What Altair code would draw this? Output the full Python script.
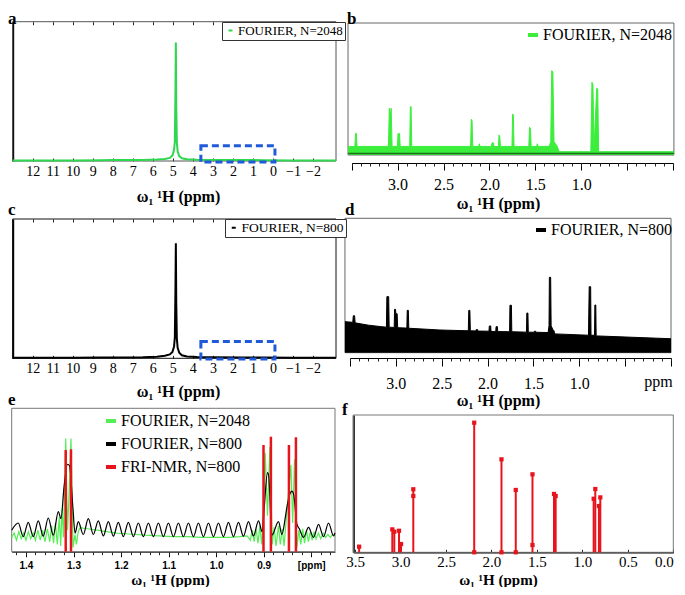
import altair as alt
import pandas as pd

SERIF = "Liberation Serif"
SANS = "Liberation Sans"
XTITLE = "ω₁ ¹H (ppm)"
H = 579.0  # plot-area height of the whole layered chart

# ---------------- data ----------------
# panels a / c : full 1H spectrum (ppm, relative intensity)
full_ppm = [13.0, 10.0, 8.6, 8.0, 6.5, 5.8, 5.4, 5.15, 5.02, 4.94, 4.90, 4.87, 4.85,
            4.83, 4.80, 4.76, 4.68, 4.55, 4.30, 3.80, 3.00, 1.50, 0.50, -1.00, -3.15]
a_int = [0.004, 0.004, 0.006, 0.007, 0.008, 0.010, 0.014, 0.022, 0.040, 0.080, 0.140, 0.500, 0.850,
         0.400, 0.130, 0.070, 0.035, 0.020, 0.012, 0.009, 0.008, 0.007, 0.006, 0.004, 0.004]
c_int = [0.004, 0.004, 0.005, 0.006, 0.008, 0.012, 0.018, 0.028, 0.045, 0.085, 0.150, 0.500, 0.826,
         0.400, 0.140, 0.075, 0.040, 0.022, 0.013, 0.009, 0.007, 0.006, 0.005, 0.004, 0.004]
full_ticks = [12, 11, 10, 9, 8, 7, 6, 5, 4, 3, 2, 1, 0, -1, -2]
zoom_box_ppm = [3.6, -0.1]
a_box_int = [-0.008, 0.11]
c_box_int = [-0.005, 0.12]

# panel b : FOURIER N=2048, 3.5-0 ppm
b_points = [(3.54, 0.063), (3.466, 0.065), (3.457, 0.164), (3.451, 0.164), (3.442, 0.065),
            (3.100, 0.065), (3.090, 0.354), (3.080, 0.300), (3.070, 0.354), (3.060, 0.065),
            (3.002, 0.065), (2.995, 0.164), (2.986, 0.140), (2.979, 0.164), (2.972, 0.065),
            (2.868, 0.065), (2.861, 0.366), (2.853, 0.366), (2.846, 0.065),
            (2.205, 0.065), (2.197, 0.270), (2.189, 0.260), (2.181, 0.065),
            (2.118, 0.065), (2.110, 0.085), (2.102, 0.065),
            (1.978, 0.065), (1.970, 0.093), (1.958, 0.093), (1.950, 0.065),
            (1.902, 0.065), (1.895, 0.152), (1.887, 0.140), (1.880, 0.065),
            (1.754, 0.065), (1.747, 0.311), (1.739, 0.300), (1.732, 0.065),
            (1.571, 0.065), (1.563, 0.210), (1.553, 0.200), (1.545, 0.065),
            (1.486, 0.065), (1.478, 0.085), (1.470, 0.065),
            (1.350, 0.065), (1.332, 0.100), (1.321, 0.639), (1.309, 0.630), (1.296, 0.100),
            (1.265, 0.070), (1.240, 0.025), (0.895, 0.025), (0.883, 0.551), (0.872, 0.530),
            (0.860, 0.050), (0.831, 0.505), (0.820, 0.500), (0.810, 0.025), (-0.01, 0.025)]
b_base_int = 0.012

# panel d : FOURIER N=800, 3.5-0 ppm
d_points = [(3.555, 0.231), (3.470, 0.226), (3.464, 0.275), (3.450, 0.275), (3.444, 0.222),
            (3.300, 0.205), (3.150, 0.193), (3.103, 0.190), (3.098, 0.417), (3.078, 0.417),
            (3.073, 0.190), (3.018, 0.188), (3.014, 0.323), (3.004, 0.323), (3.000, 0.290),
            (2.986, 0.290), (2.980, 0.186), (2.880, 0.183), (2.876, 0.315), (2.864, 0.315),
            (2.859, 0.182), (2.520, 0.169), (2.210, 0.163), (2.205, 0.315), (2.193, 0.315),
            (2.188, 0.163), (2.128, 0.162), (2.124, 0.172), (2.110, 0.172), (2.106, 0.161),
            (1.985, 0.160), (1.981, 0.199), (1.966, 0.199), (1.962, 0.158), (1.911, 0.158),
            (1.907, 0.194), (1.893, 0.194), (1.889, 0.157), (1.760, 0.156), (1.756, 0.353),
            (1.740, 0.353), (1.736, 0.156), (1.576, 0.153), (1.572, 0.295), (1.560, 0.295),
            (1.556, 0.153), (1.492, 0.152), (1.488, 0.160), (1.476, 0.160), (1.472, 0.152),
            (1.340, 0.150), (1.330, 0.200), (1.326, 0.561), (1.312, 0.561), (1.307, 0.200),
            (1.283, 0.165), (1.276, 0.165), (1.268, 0.140), (0.900, 0.130), (0.892, 0.491),
            (0.876, 0.491), (0.872, 0.130), (0.834, 0.130), (0.830, 0.355), (0.820, 0.355),
            (0.816, 0.125), (0.700, 0.122), (0.000, 0.104)]

zoom_major = [3.5, 3.0, 2.5, 2.0, 1.5, 1.0, 0.5, 0.0]
zoom_minor = [3.5, 3.4, 3.3, 3.2, 3.1, 3.0, 2.9, 2.8, 2.7, 2.6, 2.5, 2.4, 2.3, 2.2, 2.1, 2.0, 1.9, 1.8,
              1.7, 1.6, 1.5, 1.4, 1.3, 1.2, 1.1, 1.0, 0.9, 0.8, 0.7, 0.6, 0.5, 0.4, 0.3, 0.2, 0.1, 0.0]

# panel e : detail 1.43-0.75 ppm
e_green = [(1.430, 0.10), (1.425, 0.13), (1.420, 0.08), (1.415, 0.14), (1.410, 0.09), (1.405, 0.13),
           (1.400, 0.08), (1.395, 0.14), (1.390, 0.09), (1.385, 0.13), (1.380, 0.08), (1.375, 0.15),
           (1.370, 0.08), (1.365, 0.15), (1.360, 0.07), (1.355, 0.16), (1.350, 0.07), (1.346, 0.18),
           (1.342, 0.06), (1.338, 0.20), (1.334, 0.05), (1.330, 0.24), (1.327, 0.04), (1.324, 0.30),
           (1.321, 0.10), (1.3164, 0.79), (1.3125, 0.15), (1.310, 0.35), (1.3053, 0.79), (1.301, 0.03),
           (1.297, 0.12), (1.294, 0.05), (1.290, 0.14), (1.286, 0.17), (1.280, 0.165), (1.270, 0.16),
           (1.260, 0.155), (1.250, 0.15), (1.230, 0.14), (1.210, 0.13), (1.190, 0.125), (1.170, 0.12),
           (1.150, 0.115), (1.120, 0.11), (1.090, 0.105), (1.060, 0.105), (1.030, 0.10), (1.000, 0.10),
           (0.970, 0.10), (0.950, 0.105), (0.935, 0.11), (0.928, 0.08), (0.924, 0.15), (0.920, 0.07),
           (0.916, 0.16), (0.912, 0.06), (0.908, 0.18), (0.904, 0.05), (0.900, 0.30), (0.8968, 0.69),
           (0.892, 0.25), (0.887, 0.73), (0.882, 0.05), (0.878, 0.17), (0.874, 0.04), (0.869, 0.18),
           (0.865, 0.05), (0.861, 0.16), (0.857, 0.04), (0.852, 0.25), (0.8427, 0.605), (0.839, 0.20),
           (0.8351, 0.644), (0.830, 0.03), (0.826, 0.15), (0.822, 0.05), (0.818, 0.16), (0.814, 0.06),
           (0.810, 0.15), (0.806, 0.07), (0.802, 0.14), (0.798, 0.08), (0.794, 0.14), (0.790, 0.09),
           (0.785, 0.13), (0.780, 0.09), (0.775, 0.13), (0.770, 0.10), (0.765, 0.12), (0.760, 0.10),
           (0.755, 0.12), (0.750, 0.11)]
e_black = [(1.4300, 0.150), (1.4162, 0.200), (1.4057, 0.105), (1.3952, 0.205), (1.3846, 0.105),
           (1.3741, 0.215), (1.3636, 0.108), (1.3531, 0.235), (1.3425, 0.115), (1.3320, 0.280),
           (1.3263, 0.230), (1.3200, 0.450), (1.3126, 0.610), (1.3084, 0.600), (1.3011, 0.300),
           (1.2968, 0.130), (1.2899, 0.210), (1.2794, 0.120), (1.2688, 0.230), (1.2583, 0.120),
           (1.2478, 0.215), (1.2373, 0.110), (1.2267, 0.210), (1.2162, 0.108), (1.2057, 0.205),
           (1.1952, 0.105), (1.1846, 0.205), (1.1741, 0.105), (1.1636, 0.200), (1.1531, 0.105),
           (1.1425, 0.200), (1.1320, 0.105), (1.1215, 0.200), (1.1110, 0.105), (1.1004, 0.200),
           (1.0899, 0.105), (1.0794, 0.200), (1.0689, 0.105), (1.0583, 0.200), (1.0478, 0.105),
           (1.0373, 0.200), (1.0268, 0.105), (1.0162, 0.200), (1.0057, 0.105), (0.9952, 0.200),
           (0.9847, 0.105), (0.9741, 0.205), (0.9636, 0.105), (0.9531, 0.205), (0.9426, 0.108),
           (0.9320, 0.210), (0.9215, 0.110), (0.9109, 0.215), (0.9032, 0.140), (0.8990, 0.300),
           (0.8920, 0.551), (0.8895, 0.530), (0.8827, 0.116), (0.8688, 0.210), (0.8617, 0.120),
           (0.8540, 0.250), (0.8512, 0.310), (0.8440, 0.410), (0.8406, 0.423), (0.8370, 0.400),
           (0.8300, 0.190), (0.8250, 0.160), (0.8162, 0.100), (0.8057, 0.170), (0.7952, 0.100),
           (0.7846, 0.190), (0.7741, 0.105), (0.7636, 0.200), (0.7531, 0.110), (0.7500, 0.130)]
e_fri = [(1.3164, 0.709), (1.3053, 0.714), (0.9004, 0.744), (0.8848, 0.802), (0.8469, 0.744), (0.8322, 0.798)]
e_major = [1.4, 1.3, 1.2, 1.1, 1.0, 0.9, 0.8]
e_minor = [1.42, 1.40, 1.38, 1.36, 1.34, 1.32, 1.30, 1.28, 1.26, 1.24, 1.22, 1.20, 1.18, 1.16, 1.14,
           1.12, 1.10, 1.08, 1.06, 1.04, 1.02, 1.00, 0.98, 0.96, 0.94, 0.92, 0.90, 0.88, 0.86, 0.84,
           0.82, 0.80, 0.78, 0.76]

# panel f : FRI-NMR sticks
f_sticks = [(3.456, 0.041), (3.091, 0.167), (3.069, 0.150), (3.017, 0.157), (2.995, 0.060),
            (2.860, 0.459), (2.190, 0.944), (1.890, 0.677), (1.733, 0.454), (1.549, 0.568),
            (1.312, 0.425), (1.294, 0.410), (0.876, 0.390), (0.858, 0.461), (0.818, 0.337),
            (0.803, 0.400)]
f_extra_marks = [(2.860, 0.410), (2.190, 0.0), (1.890, 0.0), (1.733, 0.0), (1.549, 0.053)]
f_major = [3.5, 3.0, 2.5, 2.0, 1.5, 1.0, 0.5, 0.0]

S2048 = "FOURIER, N=2048"
S800 = "FOURIER, N=800"
SFRI_E = "FRI-NMR, N=800"
SFRI_F = "FRI\u2212NMR, N=800"

GREEN_A = "#2fd64f"
GREEN_B = "#3cee3c"
GREEN_E = "#55ee55"
RED = "#e8141c"
BLUE = "#1f5bd8"


# ---------------- helpers ----------------
def xscale(dom, rng):
    return alt.Scale(domain=dom, range=rng, nice=False, zero=False)


def yscale(rng):
    return alt.Scale(domain=[0, 1], range=rng, nice=False, zero=False)


def off_bottom(y):
    # bottom axes sit at height + offset
    return y - H


def off_top(y):
    # top axes sit at -offset
    return -y


def pts_df(points, series):
    return pd.DataFrame({"ppm": [p[0] for p in points], "i": [p[1] for p in points],
                         "s": [series] * len(points)})


def rect_df(x0, x1, y0, y1):
    return pd.DataFrame({"x0": [x0], "x1": [x1], "y0": [y0], "y1": [y1]})


def letter_layer(ch, x, y):
    return alt.Chart(pd.DataFrame({"t": [ch]})).mark_text(
        font=SERIF, fontSize=17, fontWeight="bold", align="left", baseline="alphabetic", color="black"
    ).encode(text="t:N", x=alt.value(x), y=alt.value(y))


def tick_axis(orient, y, values, size):
    off = off_bottom(y) if orient == "bottom" else off_top(y)
    return alt.Axis(orient=orient, offset=off, values=values, domain=False, labels=False, ticks=True,
                    tickSize=size, tickColor="#222", tickWidth=1, grid=False, title=None)


def left_line_axis(x):
    return alt.Axis(orient="left", offset=-x, domain=True, domainColor="black", domainWidth=2,
                    ticks=False, labels=False, grid=False, title=None)


def legend(x, y, size, boxed, stype, ssize, swidth, offset=2, rowpad=2):
    kw = dict(orient="none", legendX=x, legendY=y, title=None, labelFont=SERIF, labelFontSize=size,
              labelColor="black", symbolType=stype, symbolSize=ssize, symbolStrokeWidth=swidth,
              labelOffset=offset, rowPadding=rowpad)
    if boxed:
        kw.update(strokeColor="#333", fillColor="white", padding=2, cornerRadius=0)
    else:
        kw.update(padding=0)
    return alt.Legend(**kw)


# ---------------- panels a / c ----------------
A_DOM = [13.0, -3.15]
A_RNG = [4.7, 328.0]


def full_panel(ch, letter_y, inten, color, series, y_rng, box_int, leg_xy, leg_size, frame_col, title_y):
    sx = xscale(A_DOM, A_RNG)
    sy = yscale(y_rng)
    bottom, top = y_rng
    frame = alt.Chart(rect_df(A_DOM[0], A_DOM[1], 0.0, 1.0)).mark_rect(
        fillOpacity=0, stroke=frame_col, strokeWidth=1
    ).encode(
        x=alt.X("x0:Q", scale=sx, axis=alt.Axis(
            orient="bottom", offset=off_bottom(bottom), values=full_ticks, format="d", domain=False,
            ticks=False, grid=False, labelFont=SERIF, labelFontSize=14, labelColor="black",
            labelPadding=3, labelFlush=False, labelOverlap=False, title=XTITLE, titleFont=SERIF,
            titleFontSize=16, titleFontWeight="bold", titleColor="black", titleX=170, titleY=title_y,
            titleAlign="center", titleBaseline="middle")),
        x2="x1:Q",
        y=alt.Y("y0:Q", scale=sy, axis=left_line_axis(A_RNG[0])),
        y2="y1:Q",
    )
    line = alt.Chart(pts_df(list(zip(full_ppm, inten)), series)).mark_line(strokeWidth=2).encode(
        x=alt.X("ppm:Q", scale=sx, axis=tick_axis("top", bottom, full_ticks, 3)),
        y=alt.Y("i:Q", scale=sy, axis=None),
        color=alt.Color("s:N", scale=alt.Scale(domain=[series], range=[color]),
                        legend=legend(leg_xy[0], leg_xy[1], leg_size, True, "stroke", 16, 2, offset=1)),
    )
    box = alt.Chart(rect_df(zoom_box_ppm[0], zoom_box_ppm[1], box_int[0], box_int[1])).mark_rect(
        fillOpacity=0, stroke=BLUE, strokeWidth=3, strokeDash=[7, 4]
    ).encode(
        x=alt.X("x0:Q", scale=sx, axis=tick_axis("bottom", top, full_ticks, 3)),
        x2="x1:Q",
        y=alt.Y("y0:Q", scale=sy, axis=None),
        y2="y1:Q",
    )
    return alt.layer(frame, line, box, letter_layer(ch, 0, letter_y)).resolve_axis(
        x="independent", y="independent")


panel_a = full_panel("a", 15.5, a_int, GREEN_A, S2048, [153.0, 13.7], a_box_int, (214, 14), 13, "#555", 35)
panel_c = full_panel("c", 207, c_int, "black", S800, [350.3, 211.0], c_box_int, (217, 211), 13.5, "#111", 33)


# ---------------- panels b / d ----------------
def zoom_panel(ch, letter_xy, points, color, line_w, series, x_rng, box_x, y_rng, axis_y, major_size,
               label_pad, title_y, leg_xy, extra_title, base_rule):
    sx = xscale([3.5, 0.0], x_rng)
    sy = yscale(y_rng)
    frame = alt.Chart(rect_df(box_x[0], box_x[1], 0.0, 1.0)).mark_rect(
        fillOpacity=0, stroke="#666", strokeWidth=1
    ).encode(
        x=alt.X("x0:Q", scale=sx, axis=alt.Axis(
            orient="bottom", offset=off_bottom(axis_y), values=zoom_major, format=".1f",
            labelExpr="datum.value > 0.9 && datum.value < 3.1 ? datum.label : ''",
            domain=True, domainColor="black", domainWidth=1, ticks=True, tickSize=major_size,
            tickColor="black", grid=False, labelFont=SERIF, labelFontSize=16, labelColor="black",
            labelPadding=label_pad, labelFlush=False, labelOverlap=False, title=XTITLE, titleFont=SERIF,
            titleFontSize=16, titleFontWeight="bold", titleColor="black", titleX=490, titleY=title_y,
            titleAlign="center", titleBaseline="middle")),
        x2="x1:Q",
        y=alt.Y("y0:Q", scale=sy, axis=None),
        y2="y1:Q",
    )
    df = pts_df(points, series)
    if extra_title:
        minor_axis = alt.Axis(orient="bottom", offset=off_bottom(axis_y), values=zoom_minor, domain=False,
                              labels=False, ticks=True, tickSize=3, tickColor="#222", grid=False,
                              title="ppm", titleFont=SERIF, titleFontSize=16, titleFontWeight="normal",
                              titleColor="black", titleX=650, titleY=28, titleAlign="center",
                              titleBaseline="alphabetic")
    else:
        minor_axis = tick_axis("bottom", axis_y, zoom_minor, 3)
    area = alt.Chart(df).mark_area(color=color, opacity=1).encode(
        x=alt.X("ppm:Q", scale=sx, axis=minor_axis),
        y=alt.Y("i:Q", scale=sy, axis=None),
    )
    line = alt.Chart(df).mark_line(strokeWidth=line_w).encode(
        x=alt.X("ppm:Q", scale=sx, axis=None),
        y=alt.Y("i:Q", scale=sy, axis=None),
        color=alt.Color("s:N", scale=alt.Scale(domain=[series], range=[color]),
                        legend=legend(leg_xy[0], leg_xy[1], 16, False, "stroke", 100, 4, offset=2)),
    )
    layers = [frame, area, line]
    if base_rule:
        base = alt.Chart(pd.DataFrame({"x0": [box_x[0]], "x1": [box_x[1]], "y": [b_base_int]})).mark_rule(
            color="#1b6e1b", strokeWidth=1.5
        ).encode(x=alt.X("x0:Q", scale=sx, axis=None), x2="x1:Q", y=alt.Y("y:Q", scale=sy, axis=None))
        layers.append(base)
    layers.append(letter_layer(ch, letter_xy[0], letter_xy[1]))
    return alt.layer(*layers).resolve_axis(x="independent", y="independent")


panel_b = zoom_panel("b", (339, 15.5), b_points, GREEN_B, 1.0, S2048, [343.7, 665.0], [3.54, -0.01],
                     [147.0, 15.0], 155.0, 7, 6, 40, (517, 19), False, True)
panel_d = zoom_panel("d", (337, 207), d_points, "black", 1.0, S800, [342.0, 663.0], [3.555, 0.0],
                     [344.7, 210.3], 350.0, 8, 9, 42, (525, 214), True, False)

# ---------------- panel e ----------------
E_DOM = [1.43, 0.75]
E_RNG = [3.7, 327.0]
E_Y = [543.7, 400.3]
sx_e = xscale(E_DOM, E_RNG)
sy_e = yscale(E_Y)
e_color_scale = alt.Scale(domain=[S2048, S800, SFRI_E], range=[GREEN_E, "black", RED])

e_frame = alt.Chart(rect_df(E_DOM[0], E_DOM[1], 0.0, 1.0)).mark_rect(
    fillOpacity=0, stroke="#777", strokeWidth=1
).encode(
    x=alt.X("x0:Q", scale=sx_e, axis=alt.Axis(
        orient="bottom", offset=off_bottom(E_Y[0]), values=e_major, format=".1f",
        labelExpr="datum.value < 0.85 ? '[ppm]' : format(datum.value, '.1f')",
        domain=True, domainColor="black", domainWidth=1, ticks=True, tickSize=5, tickColor="black",
        grid=False, labelFont=SANS, labelFontSize=10, labelFontWeight="bold", labelColor="black",
        labelPadding=4, labelFlush=False, labelOverlap=False, title=XTITLE, titleFont=SERIF,
        titleFontSize=15, titleFontWeight="bold", titleColor="black", titleX=162, titleY=28,
        titleAlign="center", titleBaseline="middle")),
    x2="x1:Q",
    y=alt.Y("y0:Q", scale=sy_e, axis=None),
    y2="y1:Q",
)
e_green_line = alt.Chart(pts_df(e_green, S2048)).mark_line(strokeWidth=1.2).encode(
    x=alt.X("ppm:Q", scale=sx_e, axis=tick_axis("bottom", E_Y[0], e_minor, 3)),
    y=alt.Y("i:Q", scale=sy_e, axis=None),
    color=alt.Color("s:N", scale=e_color_scale,
                    legend=legend(95, 405, 16, False, "stroke", 100, 4, offset=2, rowpad=7)),
)
e_black_line = alt.Chart(pts_df(e_black, S800)).mark_line(strokeWidth=1.2, interpolate="monotone").encode(
    x=alt.X("ppm:Q", scale=sx_e, axis=None),
    y=alt.Y("i:Q", scale=sy_e, axis=None),
    color=alt.Color("s:N", scale=e_color_scale, legend=None),
)
e_fri_df = pd.DataFrame({"ppm": [p[0] for p in e_fri], "h": [p[1] for p in e_fri],
                         "z": [0.0] * len(e_fri), "s": [SFRI_E] * len(e_fri)})
e_red = alt.Chart(e_fri_df).mark_rule(strokeWidth=2.5).encode(
    x=alt.X("ppm:Q", scale=sx_e, axis=None),
    y=alt.Y("z:Q", scale=sy_e, axis=None),
    y2="h:Q",
    color=alt.Color("s:N", scale=e_color_scale, legend=None),
)
panel_e = alt.layer(e_frame, e_green_line, e_black_line, e_red, letter_layer("e", 0, 397)).resolve_axis(
    x="independent", y="independent")

# ---------------- panel f ----------------
F_DOM = [3.52, 0.0]
F_RNG = [345.3, 665.3]
F_Y = [544.3, 407.0]
sx_f = xscale(F_DOM, F_RNG)
sy_f = yscale(F_Y)

f_frame = alt.Chart(rect_df(F_DOM[0], F_DOM[1], 0.0, 1.0)).mark_rect(
    fillOpacity=0, stroke="#777", strokeWidth=1
).encode(
    x=alt.X("x0:Q", scale=sx_f, axis=alt.Axis(
        orient="bottom", offset=off_bottom(F_Y[0]), values=f_major, format=".1f", domain=True,
        domainColor="black", domainWidth=1.5, ticks=False, grid=False, labelFont=SERIF,
        labelFontSize=15, labelColor="black", labelPadding=2, labelFlush=False, labelOverlap=False,
        labelAlign={"condition": {"test": "datum.value < 0.01", "value": "right"}, "value": "center"},
        title=XTITLE, titleFont=SERIF, titleFontSize=15, titleFontWeight="bold", titleColor="black",
        titleX=490, titleY=27, titleAlign="center", titleBaseline="middle")),
    x2="x1:Q",
    y=alt.Y("y0:Q", scale=sy_f, axis=left_line_axis(F_RNG[0])),
    y2="y1:Q",
)
f_df = pd.DataFrame({"ppm": [p[0] for p in f_sticks], "h": [p[1] for p in f_sticks],
                     "z": [0.0] * len(f_sticks), "s": [SFRI_F] * len(f_sticks)})
f_color_scale = alt.Scale(domain=[SFRI_F], range=[RED])
f_stems = alt.Chart(f_df).mark_rule(strokeWidth=2).encode(
    x=alt.X("ppm:Q", scale=sx_f, axis=tick_axis("top", F_Y[0], f_major, 3)),
    y=alt.Y("z:Q", scale=sy_f, axis=None),
    y2="h:Q",
    color=alt.Color("s:N", scale=f_color_scale, legend=None),
)
f_marks_pts = f_sticks + f_extra_marks
f_marks = alt.Chart(pts_df(f_marks_pts, SFRI_F)).mark_point(shape="square", filled=True, size=18, opacity=1).encode(
    x=alt.X("ppm:Q", scale=sx_f, axis=None),
    y=alt.Y("i:Q", scale=sy_f, axis=None),
    color=alt.Color("s:N", scale=f_color_scale,
                    legend=legend(550, 409, 13.5, True, "square", 16, 0, offset=1)),
)
panel_f = alt.layer(f_frame, f_stems, f_marks, letter_layer("f", 334, 407)).resolve_axis(
    x="independent", y="independent")

# ---------------- assemble ----------------
chart = alt.layer(panel_a, panel_b, panel_c, panel_d, panel_e, panel_f).resolve_scale(
    x="independent", y="independent", color="independent"
).properties(
    width=669, height=579, padding=0, autosize=alt.AutoSizeParams(type="none")
).configure(font=SERIF).configure_view(strokeWidth=0)

chart.save("out.html", embed_options={"renderer": "svg", "actions": False})
